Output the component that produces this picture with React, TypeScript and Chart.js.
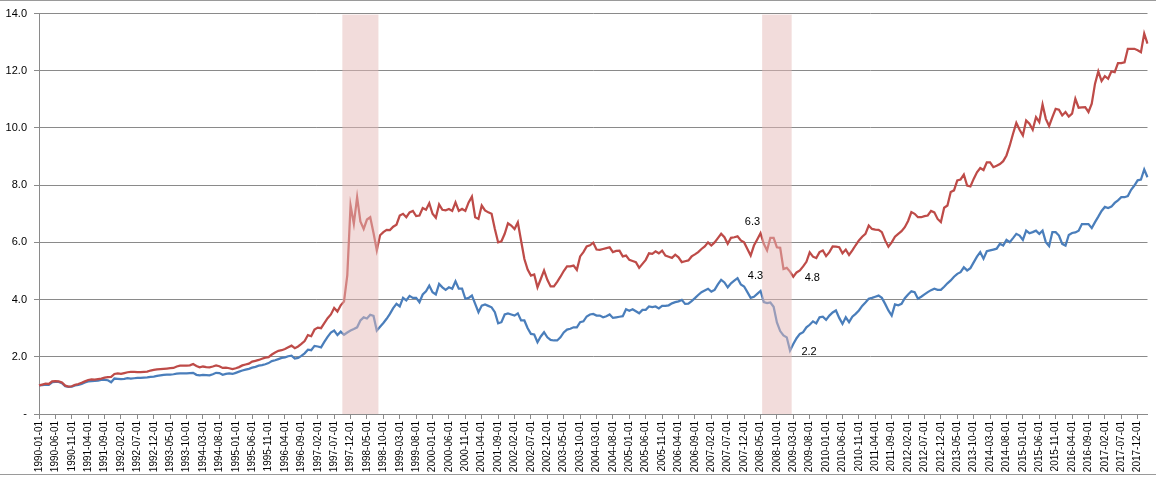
import React, { useEffect, useRef } from "react";
import { Chart, registerables } from "chart.js";

Chart.register(...registerables);

// ---- categories: monthly, 1990-01-01 .. 2018-03-01 ----
const START_YEAR = 1990;
const MONTH_COUNT = 339;
const months: string[] = Array.from({ length: MONTH_COUNT }, (_, i) => {
  const y = START_YEAR + Math.floor(i / 12);
  const m = (i % 12) + 1;
  return `${y}-${String(m).padStart(2, "0")}-01`;
});
const TICK_EVERY = 5;

// ---- series (index values) ----
const redSeries: number[] = [
  1.00, 1.03, 1.06, 1.05, 1.14, 1.15, 1.14, 1.10, 0.99, 0.96, 0.97, 1.02,
  1.05, 1.09, 1.14, 1.19, 1.21, 1.20, 1.22, 1.24, 1.27, 1.29, 1.30, 1.40,
  1.42, 1.40, 1.43, 1.46, 1.47, 1.47, 1.46, 1.46, 1.47, 1.48, 1.52, 1.54,
  1.56, 1.57, 1.58, 1.59, 1.60, 1.61, 1.66, 1.69, 1.69, 1.69, 1.70, 1.75,
  1.68, 1.63, 1.66, 1.64, 1.63, 1.66, 1.70, 1.67, 1.61, 1.62, 1.60, 1.57,
  1.60, 1.64, 1.70, 1.73, 1.76, 1.83, 1.86, 1.89, 1.93, 1.97, 1.99, 2.08,
  2.15, 2.21, 2.23, 2.27, 2.33, 2.39, 2.30, 2.36, 2.45, 2.55, 2.76, 2.72,
  2.95, 3.02, 3.00, 3.18, 3.35, 3.48, 3.71, 3.58, 3.80, 3.93, 4.85, 7.29,
  6.65, 7.58, 6.73, 6.47, 6.80, 6.88, 6.33, 5.72, 6.25, 6.36, 6.44, 6.43,
  6.55, 6.62, 6.94, 7.00, 6.88, 7.05, 7.10, 6.92, 6.94, 7.20, 7.14, 7.37,
  7.00, 6.86, 7.33, 7.14, 7.12, 7.17, 7.10, 7.40, 7.10, 7.17, 7.10, 7.40,
  7.60, 6.88, 6.82, 7.29, 7.12, 7.05, 7.00, 6.47, 6.00, 6.04, 6.30, 6.67,
  6.59, 6.47, 6.70, 6.06, 5.42, 5.05, 4.84, 4.88, 4.43, 4.72, 5.02, 4.69,
  4.46, 4.46, 4.62, 4.80, 5.00, 5.16, 5.16, 5.19, 5.04, 5.51, 5.66, 5.86,
  5.90, 5.99, 5.75, 5.74, 5.77, 5.80, 5.83, 5.66, 5.70, 5.71, 5.51, 5.54,
  5.39, 5.35, 5.31, 5.11, 5.25, 5.39, 5.62, 5.60, 5.69, 5.62, 5.71, 5.54,
  5.50, 5.46, 5.57, 5.48, 5.31, 5.34, 5.37, 5.51, 5.58, 5.66, 5.77, 5.86,
  6.00, 5.89, 6.00, 6.15, 6.30, 6.18, 5.95, 6.16, 6.18, 6.21, 6.07, 6.00,
  5.77, 5.54, 5.89, 6.10, 6.32, 5.95, 5.72, 6.16, 6.16, 5.83, 5.81, 5.07,
  5.11, 4.98, 4.80, 4.95, 5.02, 5.16, 5.32, 5.65, 5.50, 5.45, 5.66, 5.72,
  5.52, 5.66, 5.86, 5.85, 5.83, 5.62, 5.75, 5.56, 5.72, 5.90, 6.07, 6.20,
  6.30, 6.59, 6.47, 6.45, 6.44, 6.36, 6.07, 5.85, 6.00, 6.20, 6.30, 6.39,
  6.53, 6.75, 7.06, 7.00, 6.88, 6.88, 6.92, 6.94, 7.10, 7.05, 6.82, 6.71,
  7.21, 7.29, 7.76, 7.82, 8.17, 8.20, 8.37, 7.99, 7.96, 8.22, 8.45, 8.60,
  8.53, 8.80, 8.80, 8.63, 8.68, 8.74, 8.84, 9.04, 9.39, 9.80, 10.18, 9.94,
  9.74, 10.26, 10.15, 9.94, 10.38, 10.21, 10.82, 10.32, 10.07, 10.38, 10.67, 10.64,
  10.44, 10.56, 10.40, 10.50, 11.02, 10.71, 10.72, 10.73, 10.56, 10.85, 11.55, 11.98,
  11.64, 11.81, 11.72, 11.98, 11.95, 12.27, 12.27, 12.30, 12.77, 12.77, 12.77, 12.72,
  12.65, 13.30, 12.95,
];

const blueSeries: number[] = [
  1.00, 1.01, 1.03, 1.02, 1.11, 1.12, 1.12, 1.08, 0.97, 0.95, 0.96, 1.00,
  1.02, 1.05, 1.10, 1.14, 1.15, 1.16, 1.17, 1.19, 1.19, 1.18, 1.11, 1.24,
  1.23, 1.22, 1.23, 1.25, 1.24, 1.25, 1.26, 1.26, 1.27, 1.28, 1.30, 1.31,
  1.33, 1.35, 1.37, 1.38, 1.38, 1.39, 1.41, 1.42, 1.42, 1.42, 1.43, 1.44,
  1.37, 1.35, 1.37, 1.36, 1.35, 1.39, 1.44, 1.43, 1.37, 1.40, 1.42, 1.40,
  1.44, 1.48, 1.52, 1.55, 1.58, 1.62, 1.65, 1.69, 1.71, 1.74, 1.78, 1.85,
  1.88, 1.92, 1.96, 1.98, 2.02, 2.04, 1.94, 1.96, 2.03, 2.12, 2.25, 2.23,
  2.38, 2.36, 2.33, 2.52, 2.70, 2.85, 2.92, 2.76, 2.88, 2.77, 2.85, 2.92,
  2.97, 3.03, 3.27, 3.38, 3.34, 3.47, 3.43, 2.92, 3.05, 3.18, 3.33, 3.50,
  3.70, 3.85, 3.76, 4.06, 3.97, 4.13, 4.06, 4.06, 3.91, 4.18, 4.29, 4.49,
  4.26, 4.18, 4.55, 4.43, 4.34, 4.43, 4.38, 4.64, 4.38, 4.38, 4.03, 4.06,
  4.14, 3.85, 3.56, 3.79, 3.83, 3.78, 3.73, 3.56, 3.17, 3.21, 3.48, 3.52,
  3.48, 3.44, 3.52, 3.27, 3.27, 3.00, 2.80, 2.78, 2.51, 2.71, 2.86, 2.68,
  2.59, 2.57, 2.57, 2.68, 2.85, 2.95, 2.98, 3.03, 3.03, 3.21, 3.24, 3.41,
  3.48, 3.50, 3.44, 3.44, 3.38, 3.42, 3.48, 3.36, 3.38, 3.40, 3.42, 3.66,
  3.61, 3.66, 3.59, 3.52, 3.64, 3.64, 3.76, 3.74, 3.76, 3.69, 3.78, 3.78,
  3.80, 3.87, 3.91, 3.94, 3.99, 3.85, 3.86, 3.95, 4.05, 4.16, 4.26, 4.32,
  4.38, 4.28, 4.34, 4.53, 4.69, 4.60, 4.43, 4.57, 4.66, 4.75, 4.53, 4.46,
  4.26, 4.06, 4.10, 4.20, 4.30, 3.91, 3.88, 3.90, 3.75, 3.20, 2.90, 2.75,
  2.68, 2.22, 2.45, 2.65, 2.80, 2.86, 3.03, 3.12, 3.24, 3.17, 3.38, 3.40,
  3.29, 3.44, 3.55, 3.62, 3.36, 3.15, 3.38, 3.21, 3.40, 3.50, 3.62, 3.78,
  3.90, 4.03, 4.06, 4.10, 4.14, 4.06, 3.85, 3.62, 3.44, 3.83, 3.80, 3.85,
  4.05, 4.18, 4.29, 4.26, 4.03, 4.10, 4.18, 4.26, 4.33, 4.38, 4.34, 4.34,
  4.45, 4.57, 4.67, 4.80, 4.90, 4.96, 5.13, 5.02, 5.10, 5.30, 5.50, 5.66,
  5.43, 5.69, 5.72, 5.75, 5.78, 5.95, 5.89, 6.09, 6.01, 6.15, 6.30, 6.24,
  6.09, 6.41, 6.32, 6.36, 6.41, 6.30, 6.41, 6.01, 5.87, 6.36, 6.36, 6.24,
  5.95, 5.89, 6.26, 6.33, 6.35, 6.41, 6.64, 6.64, 6.64, 6.50, 6.71, 6.90,
  7.10, 7.24, 7.20, 7.25, 7.38, 7.47, 7.58, 7.58, 7.62, 7.84, 7.99, 8.17,
  8.20, 8.55, 8.28,
];

// ---- shaded crisis periods (first month, last month) ----
const shadedPeriods: [string, string][] = [
  ["1997-10-01", "1998-08-01"],
  ["2008-06-01", "2009-02-01"],
];

// ---- labelled points ----
const labelledPoints: { dataset: number; date: string }[] = [
  { dataset: 0, date: "2008-05-01" },
  { dataset: 1, date: "2008-05-01" },
  { dataset: 0, date: "2009-03-01" },
  { dataset: 1, date: "2009-02-01" },
];

const Y_MIN = 0;
const Y_MAX = 14;
const Y_STEP = 2;

const FONT = "'Liberation Sans', Arial, sans-serif";
const GRID = "#8a8a8a";

const LABEL_OFFSETS: [number, number][] = [
  [-8, -11],
  [-5, -15],
  [19, 1],
  [19, 1],
];

const overlayPlugin = {
  id: "overlay",
  afterDatasetsDraw(chart: any) {
    const { ctx, chartArea, scales } = chart;
    const x = scales.x;
    ctx.save();
    ctx.fillStyle = "rgba(229,185,183,0.5)";
    for (const [a, b] of shadedPeriods) {
      const ia = months.indexOf(a);
      const ib = months.indexOf(b);
      const x0 = x.getPixelForValue(ia - 0.5);
      const x1 = x.getPixelForValue(ib + 0.5);
      ctx.fillRect(x0, chartArea.top + 1, x1 - x0, chartArea.bottom - chartArea.top - 1);
    }
    ctx.fillStyle = "#000";
    ctx.font = `11px ${FONT}`;
    ctx.textAlign = "center";
    ctx.textBaseline = "middle";
    labelledPoints.forEach((lp, k) => {
      const idx = months.indexOf(lp.date);
      const meta = chart.getDatasetMeta(lp.dataset);
      const pt = meta.data[idx];
      const v = chart.data.datasets[lp.dataset].data[idx] as number;
      const [dx, dy] = LABEL_OFFSETS[k];
      ctx.fillText(v.toFixed(1), pt.x + dx, pt.y + dy);
    });
    ctx.restore();
  },
  afterDraw(chart: any) {
    const { ctx, width, height } = chart;
    ctx.save();
    ctx.strokeStyle = "#9a9a9a";
    ctx.lineWidth = 1;
    ctx.beginPath();
    ctx.moveTo(0, 0.5);
    ctx.lineTo(width, 0.5);
    ctx.moveTo(0, height - 3.5);
    ctx.lineTo(width, height - 3.5);
    ctx.stroke();
    ctx.restore();
  },
};

export default function App() {
  const canvasRef = useRef<HTMLCanvasElement | null>(null);

  useEffect(() => {
    const canvas = canvasRef.current;
    if (!canvas) return;
    const chart = new Chart(canvas, {
      type: "line",
      data: {
        labels: months,
        datasets: [
          {
            label: "A",
            data: redSeries,
            borderColor: "#BE4B48",
            borderWidth: 2.25,
            pointRadius: 0,
            tension: 0,
            fill: false,
          },
          {
            label: "B",
            data: blueSeries,
            borderColor: "#4A7EBB",
            borderWidth: 2.25,
            pointRadius: 0,
            tension: 0,
            fill: false,
          },
        ],
      },
      options: {
        animation: false,
        responsive: false,
        maintainAspectRatio: false,
        events: [],
        layout: { padding: { top: 9, right: 8.5, bottom: 0, left: 0 } },
        plugins: {
          legend: { display: false },
          tooltip: { enabled: false },
          title: { display: false },
        },
        scales: {
          x: {
            type: "category",
            offset: false,
            border: { display: true, color: GRID, width: 1 },
            grid: {
              display: true,
              drawOnChartArea: false,
              drawTicks: true,
              tickLength: 5,
              color: GRID,
            },
            ticks: {
              autoSkip: false,
              maxRotation: 90,
              minRotation: 90,
              padding: 2,
              color: "#000",
              font: { family: FONT, size: 10 },
              callback: (_v: any, i: number) =>
                i % TICK_EVERY === 0 ? months[i] : null,
            },
            afterFit: (scale: any) => {
              scale.height = 64;
            },
          },
          y: {
            min: Y_MIN,
            max: Y_MAX,
            border: { display: true, color: GRID, width: 1 },
            grid: {
              color: GRID,
              lineWidth: 1,
              drawTicks: true,
              tickLength: 5,
            },
            ticks: {
              stepSize: Y_STEP,
              padding: 7,
              color: "#000",
              font: { family: FONT, size: 11 },
              callback: (v: any) => (Number(v) === 0 ? "-" : Number(v).toFixed(1)),
            },
            afterFit: (scale: any) => {
              scale.width = 39;
            },
          },
        },
      },
      plugins: [overlayPlugin],
    });
    return () => chart.destroy();
  }, []);

  return (
    <div style={{ position: "fixed", left: 0, top: 0, width: 1156, height: 478, background: "#fff" }}>
      <canvas ref={canvasRef} width={1156} height={478} style={{ display: "block", width: 1156, height: 478 }} />
    </div>
  );
}
